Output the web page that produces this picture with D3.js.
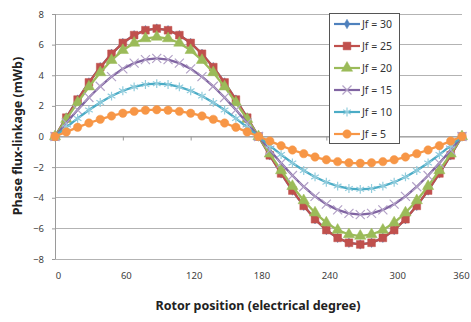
<!DOCTYPE html>
<html><head><meta charset="utf-8">
<script src="https://cdn.jsdelivr.net/npm/d3@7"></script>
<style>body{margin:0;background:#fff}svg{display:block}text{font-family:"Noto Sans",sans-serif}</style>
</head><body><svg id="c" width="471" height="322"></svg>
<script>
const angles = [0,10,20,30,40,50,60,70,80,90,100,110,120,130,140,150,160,170,180,190,200,210,220,230,240,250,260,270,280,290,300,310,320,330,340,350,360];
const jf30 = [0,1.23,2.41,3.53,4.53,5.40,6.11,6.62,6.94,7.05,6.94,6.62,6.11,5.40,4.53,3.53,2.41,1.23,0,-1.23,-2.41,-3.53,-4.53,-5.40,-6.11,-6.62,-6.94,-7.05,-6.94,-6.62,-6.11,-5.40,-4.53,-3.53,-2.41,-1.23,0];
const jf25 = [0,1.23,2.41,3.53,4.53,5.40,6.11,6.62,6.94,7.05,6.94,6.62,6.11,5.40,4.53,3.53,2.41,1.23,0,-1.23,-2.41,-3.53,-4.53,-5.40,-6.11,-6.62,-6.94,-7.05,-6.94,-6.62,-6.11,-5.40,-4.53,-3.53,-2.41,-1.23,0];
const jf20 = [0,1.13,2.22,3.25,4.18,4.98,5.63,6.11,6.40,6.50,6.40,6.11,5.63,4.98,4.18,3.25,2.22,1.13,0,-1.13,-2.22,-3.25,-4.18,-4.98,-5.63,-6.11,-6.40,-6.50,-6.40,-6.11,-5.63,-4.98,-4.18,-3.25,-2.22,-1.13,0];
const jf15 = [0,0.89,1.74,2.55,3.28,3.91,4.42,4.79,5.02,5.10,5.02,4.79,4.42,3.91,3.28,2.55,1.74,0.89,0,-0.89,-1.74,-2.55,-3.28,-3.91,-4.42,-4.79,-5.02,-5.10,-5.02,-4.79,-4.42,-3.91,-3.28,-2.55,-1.74,-0.89,0];
const jf10 = [0,0.60,1.18,1.73,2.22,2.64,2.99,3.24,3.40,3.45,3.40,3.24,2.99,2.64,2.22,1.73,1.18,0.60,0,-0.60,-1.18,-1.73,-2.22,-2.64,-2.99,-3.24,-3.40,-3.45,-3.40,-3.24,-2.99,-2.64,-2.22,-1.73,-1.18,-0.60,0];
const jf5 = [0,0.30,0.60,0.88,1.12,1.34,1.52,1.64,1.72,1.75,1.72,1.64,1.52,1.34,1.12,0.88,0.60,0.30,0,-0.30,-0.60,-0.88,-1.12,-1.34,-1.52,-1.64,-1.72,-1.75,-1.72,-1.64,-1.52,-1.34,-1.12,-0.88,-0.60,-0.30,0];
const seriesNames = ["Jf = 30","Jf = 25","Jf = 20","Jf = 15","Jf = 10","Jf = 5"];
const xTicks = [0,60,120,180,240,300,360];
const yTicks = [-8,-6,-4,-2,0,2,4,6,8];

const series = [
  {name:seriesNames[0], values:jf30, color:"#4F81BD", mcolor:"#4F81BD", sym:"diamond", size:26},
  {name:seriesNames[1], values:jf25, color:"#C0504D", mcolor:"#C0504D", sym:"square", size:60},
  {name:seriesNames[2], values:jf20, color:"#9BBB59", mcolor:"#9BBB59", sym:"triangle", size:55},
  {name:seriesNames[3], values:jf15, color:"#8064A2", mcolor:"#B3A2C7", sym:"x", size:55},
  {name:seriesNames[4], values:jf10, color:"#4BACC6", mcolor:"#93CDDD", sym:"star", size:55},
  {name:seriesNames[5], values:jf5, color:"#F79646", mcolor:"#F79646", sym:"circle", size:56}
];

const svg = d3.select("#c");
const x = d3.scaleLinear().domain([0,360]).range([55,462]);
const y = d3.scaleLinear().domain([-8,8]).range([259,14]);

// gridlines
svg.append("g").selectAll("line").data(yTicks).join("line")
  .attr("x1",55).attr("x2",462).attr("y1",d=>y(d)).attr("y2",d=>y(d))
  .attr("stroke","#b3b3b3").attr("stroke-width",1).attr("shape-rendering","crispEdges");
// left axis
svg.append("line").attr("x1",55).attr("x2",55).attr("y1",y(8)).attr("y2",y(-8))
  .attr("stroke","#9a9a9a").attr("shape-rendering","crispEdges");
// y axis labels and ticks
const ya = svg.append("g").attr("transform","translate(55,0)")
  .call(d3.axisLeft(y).tickValues(yTicks).tickSize(3).tickFormat(d3.format("d")));
ya.select(".domain").remove();
ya.selectAll("line").attr("stroke","#9a9a9a");
ya.selectAll("text").attr("font-size",9.5).attr("fill","#404040").attr("x",-11);
// x axis on zero line, labels at bottom
const xa = svg.append("g").attr("transform",`translate(0,${y(0)})`)
  .call(d3.axisBottom(x).tickValues(xTicks).tickSize(4).tickFormat(""));
xa.select(".domain").attr("stroke","#9a9a9a");
xa.selectAll("line").attr("stroke","#9a9a9a");
const xl = svg.append("g").attr("transform",`translate(0,${y(-8)})`)
  .call(d3.axisBottom(x).tickValues(xTicks).tickSize(0).tickPadding(13).tickFormat(d3.format("d")));
xl.select(".domain").remove();
xl.selectAll("text").attr("font-size",9.5).attr("fill","#404040").attr("dx",d=>d===360?-1:3);

const symType = {diamond:d3.symbolDiamond, square:d3.symbolSquare, triangle:d3.symbolTriangle, circle:d3.symbolCircle, x:d3.symbolX, star:d3.symbolAsterisk};
const line = d3.line().x((d,i)=>x(angles[i])).y(d=>y(d));

function drawMarker(g, s, px, py){
  const p = d3.symbol().type(symType[s.sym]).size(s.size)();
  const m = g.append("path").attr("d",p).attr("transform",`translate(${px},${py})`);
  if(s.sym==="x"||s.sym==="star") m.attr("fill","none").attr("stroke",s.mcolor).attr("stroke-width",1.2);
  else m.attr("fill",s.mcolor).attr("stroke",s.mcolor).attr("stroke-width",0.5);
}

series.forEach(s=>{
  const g = svg.append("g");
  g.append("path").datum(s.values).attr("d",line).attr("fill","none")
   .attr("stroke",s.color).attr("stroke-width",2.3);
  s.values.forEach((v,i)=>drawMarker(g,s,x(angles[i]),y(v)));
});

// legend
const lg = svg.append("g");
lg.append("rect").attr("x",329.5).attr("y",13.5).attr("width",70).attr("height",130)
  .attr("fill","#fff").attr("stroke","#555").attr("stroke-width",1);
series.forEach((s,i)=>{
  const cy = 24 + i*22;
  lg.append("line").attr("x1",334).attr("x2",360).attr("y1",cy).attr("y2",cy)
    .attr("stroke",s.color).attr("stroke-width",2.2);
  drawMarker(lg,s,347,cy);
  lg.append("text").attr("x",362).attr("y",cy).attr("dy","0.35em")
    .attr("font-size",10.5).attr("fill","#333").text(s.name);
});

// titles
svg.append("text").attr("transform","translate(22,136) rotate(-90)").attr("text-anchor","middle")
  .attr("font-size",12.5).attr("font-weight","bold").attr("fill","#222").text("Phase flux-linkage (mWb)");
svg.append("text").attr("x",258).attr("y",310).attr("text-anchor","middle")
  .attr("font-size",12.5).attr("font-weight","bold").attr("fill","#222").text("Rotor position (electrical degree)");
</script></body></html>
